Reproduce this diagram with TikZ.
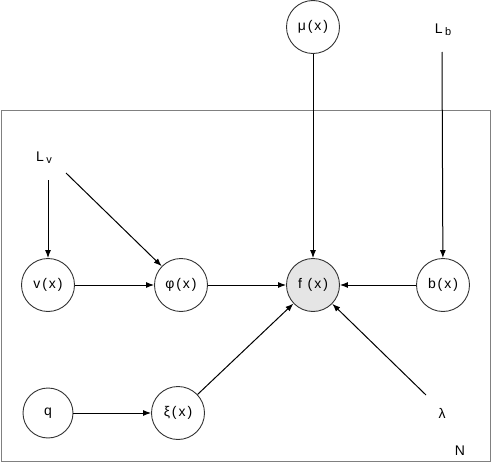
\documentclass[tikz,border=0pt]{standalone}
\usepackage{fontspec}
\setmainfont{Liberation Sans}[LetterSpace=14]
\usetikzlibrary{arrows.meta}
\begin{document}
\begin{tikzpicture}[x=1pt,y=-1pt,
  every node/.style={font=\fontsize{14}{16}\selectfont},
  rv/.style={circle,draw=black!80,line width=0.9pt,minimum size=53pt,inner sep=0pt},
  obs/.style={rv,fill=black!10},
  lbl/.style={inner sep=1pt},
  edge/.style={line width=1pt,-{Latex[length=8pt,width=6pt]}},
  plate/.style={draw=black!50,line width=0.9pt}]
\useasboundingbox (0,0) rectangle (491,463);
\draw[plate] (1,110) rectangle (490,461);
\node[rv] (mu) at (313,27) {μ(x)};
\node[lbl] (Lb) at (443,30) {L\,\raisebox{-2pt}{\fontsize{11}{12}\selectfont b}};
\node[lbl] (Lv) at (44,158) {L\,\raisebox{-2pt}{\fontsize{11}{12}\selectfont v}};
\node[rv] (v) at (48,285) {v(x)};
\node[rv] (phi) at (181,285) {φ(x)};
\node[obs] (f) at (313,285) {f (x)};
\node[rv] (b) at (443,285) {b(x)};
\node[rv,minimum size=50pt] (q) at (48,413) {q};
\node[rv] (xi) at (178,413) {ξ(x)};
\node[lbl] (lam) at (442,413) {λ};
\node[lbl] (N) at (460,451) {N};
\coordinate (Lbs) at (442,52);
\coordinate (Lvs) at (48,180);
\coordinate (Lvd) at (66,173);
\coordinate (lams) at (426,395);
\draw[edge] (mu) -- (f);
\draw[edge] (Lbs) -- (b);
\draw[edge] (Lvs) -- (v);
\draw[edge] (Lvd) -- (phi);
\draw[edge] (v) -- (phi);
\draw[edge] (phi) -- (f);
\draw[edge] (b) -- (f);
\draw[edge] (q) -- (xi);
\draw[edge] (xi) -- (f);
\draw[edge] (lams) -- (f);
\end{tikzpicture}
\end{document}
